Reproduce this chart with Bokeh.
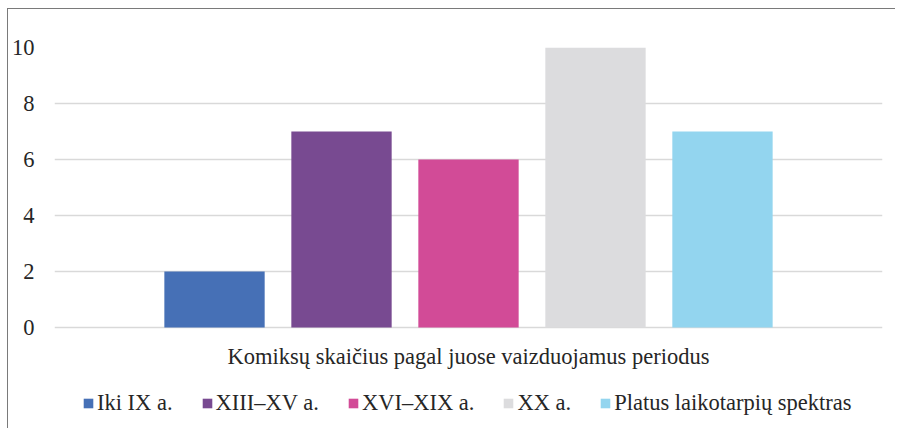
from bokeh.plotting import figure
from bokeh.models import Range1d, FixedTicker, Legend, LegendItem, ColumnDataSource, Label
from bokeh.embed import file_html
from bokeh.resources import INLINE

categories = ["Iki IX a.", "XIII–XV a.", "XVI–XIX a.", "XX a.", "Platus laikotarpių spektras"]
values = [2, 7, 6, 10, 7]
colors = ["#4670B6", "#784A91", "#D24B97", "#DCDCDE", "#93D5EF"]
y_ticks = [0, 2, 4, 6, 8, 10]
axis_title = "Komiksų skaičius pagal juose vaizduojamus periodus"

FONT = "Liberation Serif"
TXT = "#262626"
FS = "22.5px"

# geometry: frame spans 10 units over 280 px, extended downward to hold title + legend
PPU = 28.0
FRAME_H = 420 - 38
y_start = 10 - FRAME_H / PPU

p = figure(width=888, height=420, output_backend="svg", toolbar_location=None,
           x_range=Range1d(-3.26, 3.26), y_range=Range1d(y_start, 10),
           min_border_left=46, min_border_right=14, min_border_top=38, min_border_bottom=0)
p.margin = (8, 0, 0, 7)
p.styles = {"border-top": "1px solid #7a7a7a", "border-left": "1px solid #7a7a7a"}
p.outline_line_color = None
p.xaxis.visible = False

items = []
for i, (c, v, col) in enumerate(zip(categories, values, colors)):
    src = ColumnDataSource(dict(x=[i - 2], top=[v]))
    r = p.vbar(x="x", top="top", bottom=0, width=0.79, source=src, fill_color=col, line_color=None)
    items.append(LegendItem(label=c, renderers=[r]))

p.yaxis.ticker = FixedTicker(ticks=y_ticks)
p.yaxis.axis_line_color = None
p.yaxis.major_tick_line_color = None
p.yaxis.minor_tick_line_color = None
p.yaxis.major_tick_out = 0
p.yaxis.major_tick_in = 0
p.yaxis.minor_tick_out = 0
p.yaxis.major_label_standoff = 20
p.yaxis.major_label_text_font = FONT
p.yaxis.major_label_text_font_size = FS
p.yaxis.major_label_text_color = TXT

p.xgrid.grid_line_color = None
p.ygrid.ticker = FixedTicker(ticks=y_ticks)
p.ygrid.grid_line_color = "#d9d9d9"
p.ygrid.grid_line_width = 1.5

p.add_layout(Label(x=0, y=-1.02, text=axis_title, text_align="center", text_baseline="middle",
                   text_font=FONT, text_font_size=FS, text_color=TXT))

legend = Legend(items=items, orientation="horizontal", location=(28, 13),
                glyph_width=12, glyph_height=12, label_standoff=3, spacing=28,
                label_text_font=FONT, label_text_font_size=FS, label_text_color=TXT,
                border_line_color=None, background_fill_alpha=0, padding=0, margin=0)
p.add_layout(legend, "center")

open("out.html", "w").write(file_html(p, INLINE))
